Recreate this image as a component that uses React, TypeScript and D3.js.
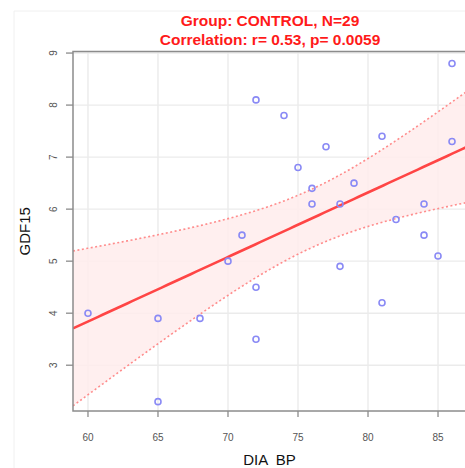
import React, { useEffect, useRef } from 'react';
import * as d3 from 'd3';

// chart text
const titleLines = ['Group: CONTROL, N=29', 'Correlation: r= 0.53, p= 0.0059'];
const xLabel = 'DIA  BP';
const yLabel = 'GDF15';

// points (DIA BP vs GDF15)
const diaBp = [60, 65, 65, 68, 70, 71, 72, 72, 72, 74, 75, 76, 76, 77, 78, 78, 79, 81, 81, 82, 84, 84, 85, 86, 86];
const gdf15 = [4.0, 3.9, 2.3, 3.9, 5.0, 5.5, 8.1, 4.5, 3.5, 7.8, 6.8, 6.4, 6.1, 7.2, 6.1, 4.9, 6.5, 7.4, 4.2, 5.8, 6.1, 5.5, 5.1, 8.8, 7.3];

// fitted line as drawn in the picture (N=29, some points fall outside the crop)
const fitIntercept = -3.6;
const fitSlope = 0.124;

const xTicks = [60, 65, 70, 75, 80, 85];
const yTicks = [3, 4, 5, 6, 7, 8, 9];
const xDomain = [58.93, 87.07];
const yDomain = [2.12, 9.03];

const WIDTH = 465;
const HEIGHT = 468;
const panel = { left: 73, right: 467, top: 51.5, bottom: 411 };

// t quantile (0.975) via Cornish-Fisher expansion
const tQuantile = (df: number) => {
    const z = 1.959964;
    const z3 = z ** 3;
    const z5 = z ** 5;
    const z7 = z ** 7;
    return z
        + (z3 + z) / (4 * df)
        + (5 * z5 + 16 * z3 + 3 * z) / (96 * df * df)
        + (3 * z7 + 19 * z5 + 17 * z3 - 15 * z) / (384 * df ** 3);
};

// 95% confidence band around the fitted line, spread taken from the points
const fitBand = (xs: number[], ys: number[]) => {
    const n = xs.length;
    const xbar = d3.mean(xs) as number;
    const ybar = d3.mean(ys) as number;
    const sxx = d3.sum(xs, (x) => (x - xbar) ** 2);
    const sxy = d3.sum(xs, (x, i) => (x - xbar) * (ys[i] - ybar));
    const slope = sxy / sxx;
    const intercept = ybar - slope * xbar;
    const sse = d3.sum(xs, (x, i) => (ys[i] - intercept - slope * x) ** 2);
    const s = Math.sqrt(sse / (n - 2));
    const t = tQuantile(n - 2);
    const grid = d3.range(81).map((i) => xDomain[0] + (i / 80) * (xDomain[1] - xDomain[0]));
    return grid.map((x) => {
        const fit = fitIntercept + fitSlope * x;
        const half = t * s * Math.sqrt(1 / n + (x - xbar) ** 2 / sxx);
        return { x, fit, lo: fit - half, hi: fit + half };
    });
};

const drawChart = (node: SVGSVGElement) => {
    const svg = d3.select(node);
    svg.selectAll('*').remove();

    const x = d3.scaleLinear().domain(xDomain).range([panel.left, panel.right]);
    const y = d3.scaleLinear().domain(yDomain).range([panel.bottom, panel.top]);

    svg.append('rect').attr('width', WIDTH).attr('height', HEIGHT).attr('fill', '#fff');

    // faint outer frame of the source image
    svg.append('line').attr('x1', 14).attr('x2', 14).attr('y1', 11).attr('y2', HEIGHT)
        .attr('stroke', '#f0f0f0');
    svg.append('line').attr('x1', 14).attr('x2', WIDTH).attr('y1', 11).attr('y2', 11)
        .attr('stroke', '#f0f0f0');

    const clip = svg.append('defs').append('clipPath').attr('id', 'panel-clip');
    clip.append('rect')
        .attr('x', panel.left).attr('y', panel.top)
        .attr('width', panel.right - panel.left).attr('height', panel.bottom - panel.top);

    // grid
    const grid = svg.append('g');
    grid.selectAll('.vx').data(xTicks).enter().append('line')
        .attr('x1', (d) => x(d)).attr('x2', (d) => x(d))
        .attr('y1', panel.top).attr('y2', panel.bottom)
        .attr('stroke', '#ebebeb').attr('stroke-width', 1.4);
    grid.selectAll('.hy').data(yTicks).enter().append('line')
        .attr('x1', panel.left).attr('x2', panel.right)
        .attr('y1', (d) => y(d)).attr('y2', (d) => y(d))
        .attr('stroke', '#ebebeb').attr('stroke-width', 1.4);

    // regression band + line
    const band = fitBand(diaBp, gdf15);
    const plot = svg.append('g').attr('clip-path', 'url(#panel-clip)');
    plot.append('path')
        .datum(band)
        .attr('d', d3.area<any>().x((d) => x(d.x)).y0((d) => y(d.lo)).y1((d) => y(d.hi)))
        .attr('fill', '#ffecec')
        .attr('fill-opacity', 0.85);
    ['lo', 'hi'].forEach((key) => {
        plot.append('path')
            .datum(band)
            .attr('d', d3.line<any>().x((d) => x(d.x)).y((d) => y(d[key])))
            .attr('fill', 'none')
            .attr('stroke', '#ff8c8c')
            .attr('stroke-width', 1.6)
            .attr('stroke-dasharray', '2,2.5');
    });
    plot.append('path')
        .datum(band)
        .attr('d', d3.line<any>().x((d) => x(d.x)).y((d) => y(d.fit)))
        .attr('fill', 'none')
        .attr('stroke', '#ff4545')
        .attr('stroke-width', 2.6);

    // points
    plot.selectAll('.pt').data(diaBp).enter().append('circle')
        .attr('cx', (d) => x(d))
        .attr('cy', (d, i) => y(gdf15[i]))
        .attr('r', 3)
        .attr('fill', 'none')
        .attr('stroke', '#8a8af5')
        .attr('stroke-width', 1.6);

    // panel border
    svg.append('rect')
        .attr('x', panel.left).attr('y', panel.top)
        .attr('width', panel.right - panel.left).attr('height', panel.bottom - panel.top)
        .attr('fill', 'none').attr('stroke', '#8c8c8c').attr('stroke-width', 1.5);

    // x axis ticks + labels
    const xa = svg.append('g');
    xa.selectAll('line').data(xTicks).enter().append('line')
        .attr('x1', (d) => x(d)).attr('x2', (d) => x(d))
        .attr('y1', panel.bottom).attr('y2', panel.bottom + 6)
        .attr('stroke', '#8c8c8c').attr('stroke-width', 1.3);
    xa.selectAll('text').data(xTicks).enter().append('text')
        .attr('x', (d) => x(d)).attr('y', 440.5)
        .attr('text-anchor', 'middle')
        .attr('font-family', 'Liberation Sans, Arial, sans-serif')
        .attr('font-size', 10).attr('fill', '#555')
        .text((d) => d);

    // y axis ticks + labels (rotated)
    const ya = svg.append('g');
    ya.selectAll('line').data(yTicks).enter().append('line')
        .attr('x1', panel.left - 7).attr('x2', panel.left)
        .attr('y1', (d) => y(d)).attr('y2', (d) => y(d))
        .attr('stroke', '#8c8c8c').attr('stroke-width', 1.3);
    ya.selectAll('text').data(yTicks).enter().append('text')
        .attr('transform', (d) => `translate(53,${y(d)}) rotate(-90)`)
        .attr('dy', '0.35em')
        .attr('text-anchor', 'middle')
        .attr('font-family', 'Liberation Sans, Arial, sans-serif')
        .attr('font-size', 10).attr('fill', '#555')
        .text((d) => d);

    // axis titles
    svg.append('text')
        .attr('x', (panel.left + panel.right) / 2 - 0.5).attr('y', 464.5)
        .attr('text-anchor', 'middle')
        .style('white-space', 'pre')
        .attr('font-family', 'Liberation Sans, Arial, sans-serif')
        .attr('font-size', 15).attr('fill', '#111')
        .text(xLabel);
    svg.append('text')
        .attr('transform', `translate(25,${(panel.top + panel.bottom) / 2}) rotate(-90)`)
        .attr('dy', '0.36em')
        .attr('text-anchor', 'middle')
        .attr('font-family', 'Liberation Sans, Arial, sans-serif')
        .attr('font-size', 15).attr('fill', '#111')
        .text(yLabel);

    // title
    svg.selectAll('.title').data(titleLines).enter().append('text')
        .attr('x', (panel.left + panel.right) / 2)
        .attr('y', (d, i) => 26 + i * 19)
        .attr('text-anchor', 'middle')
        .attr('font-family', 'Liberation Sans, Arial, sans-serif')
        .attr('font-weight', 'bold')
        .attr('font-size', 15.5).attr('fill', '#ff1a1a')
        .text((d) => d);
};

const App = () => {
    const ref = useRef<SVGSVGElement>(null);
    useEffect(() => {
        if (ref.current) drawChart(ref.current);
    }, []);

    return (
        <svg
            ref={ref}
            width={WIDTH}
            height={HEIGHT}
            style={{ position: 'absolute', left: 0, top: 0, display: 'block' }}
        />
    );
};

export default App;
